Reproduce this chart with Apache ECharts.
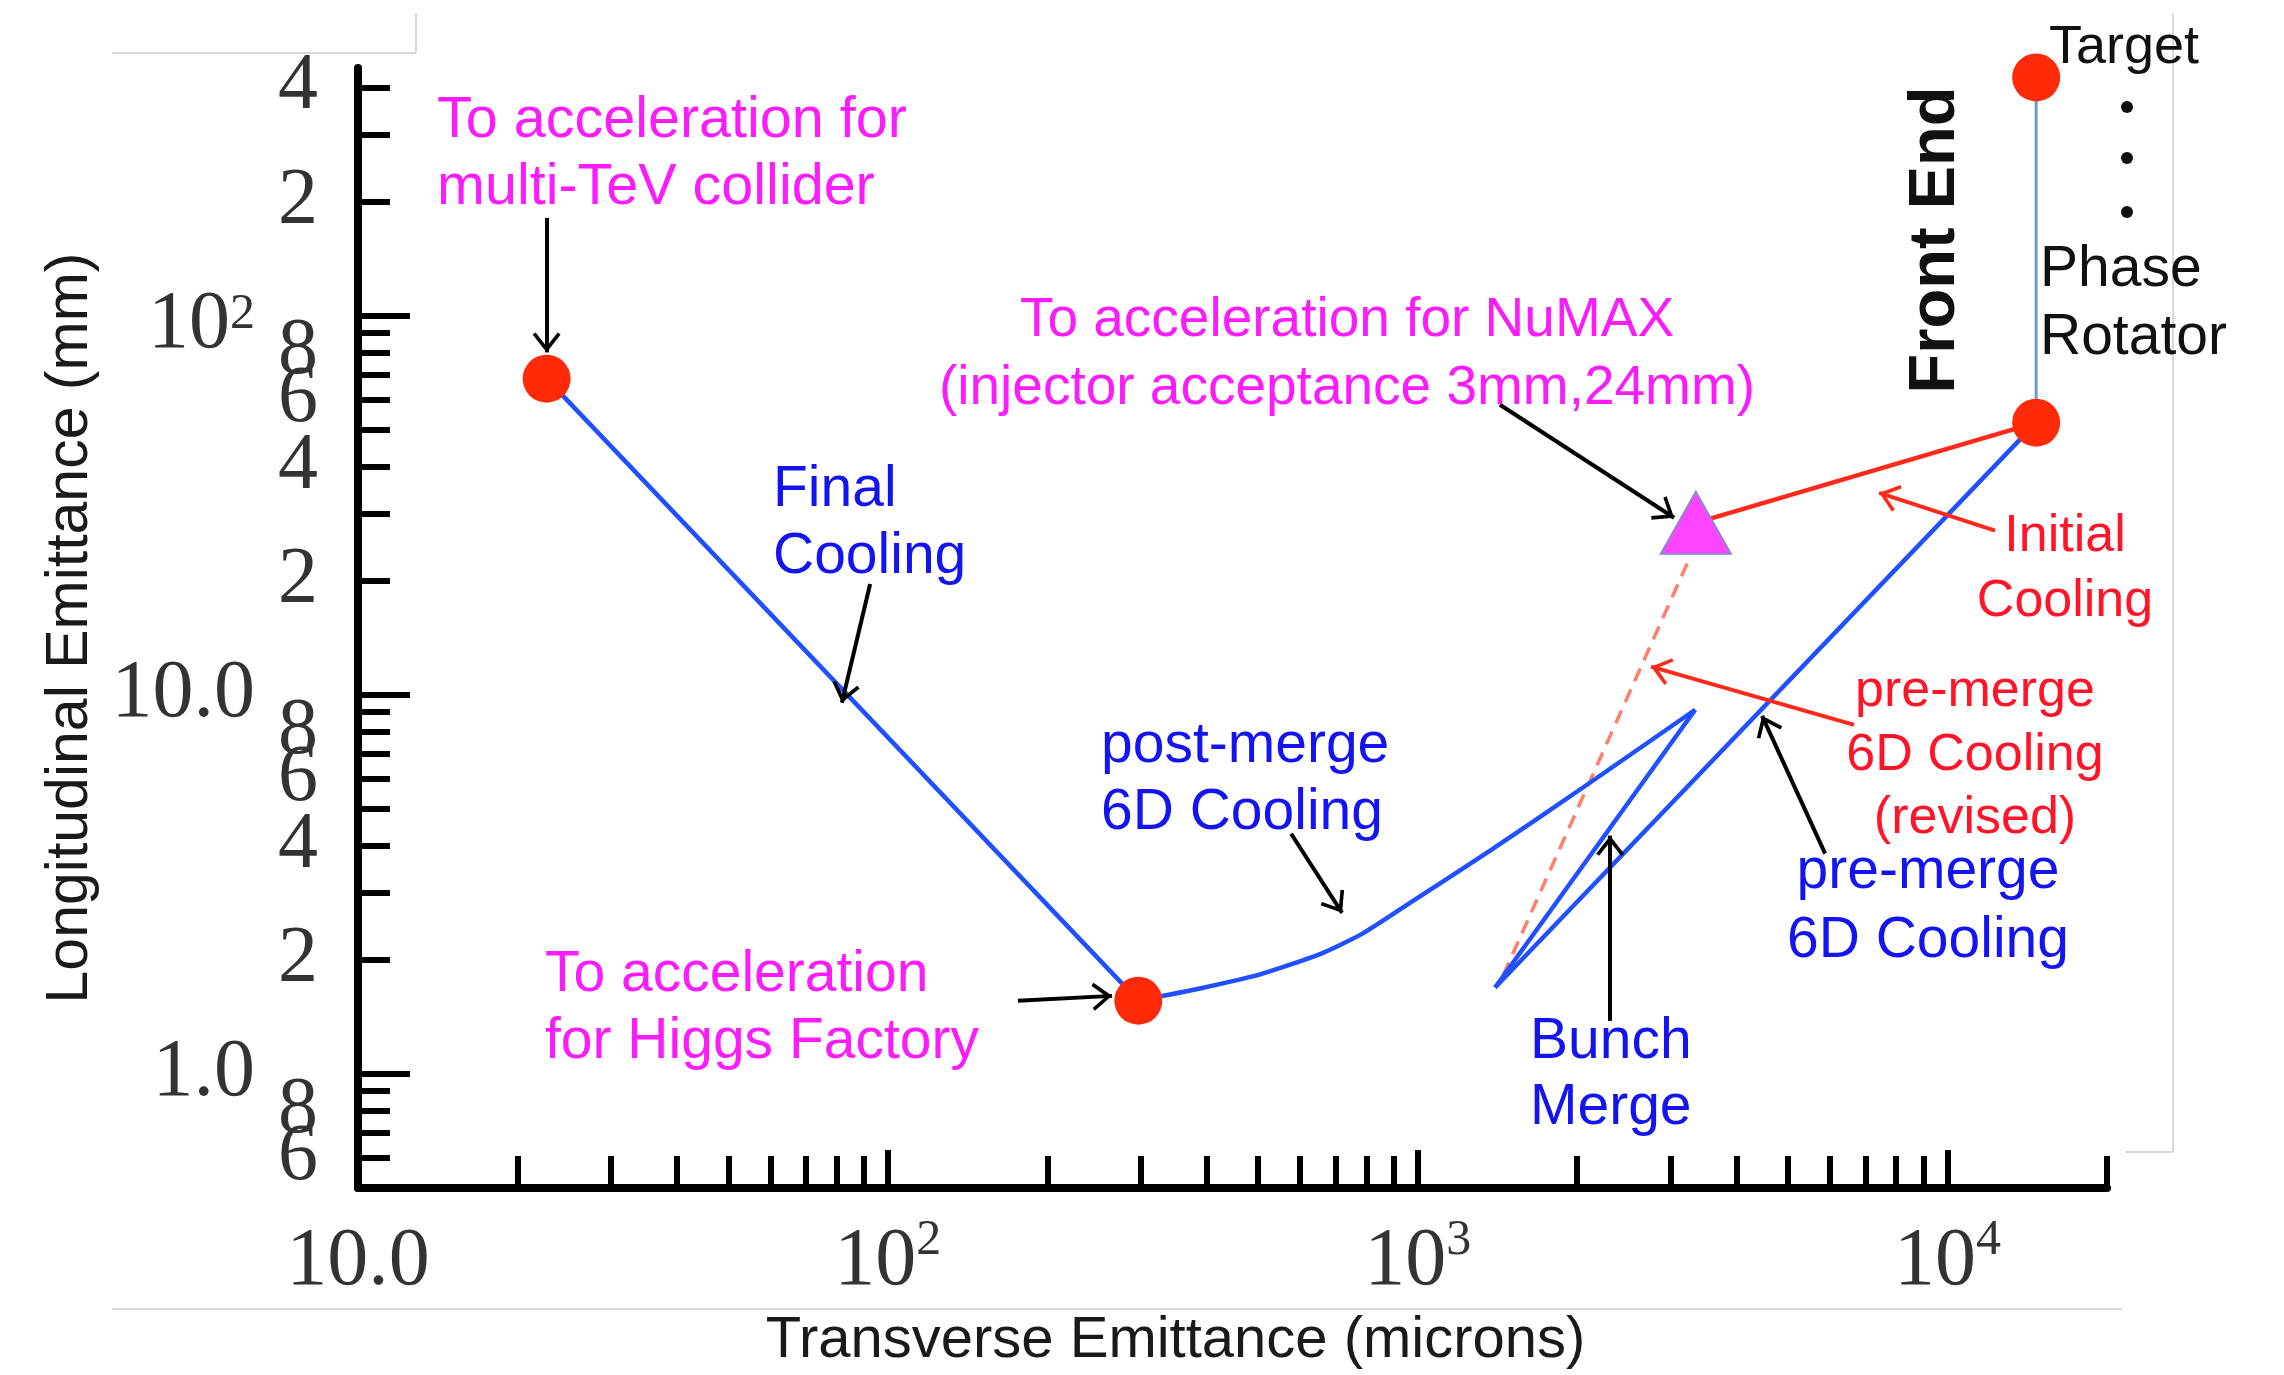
<!DOCTYPE html>
<html><head><meta charset="utf-8">
<script src="https://cdn.jsdelivr.net/npm/echarts@6/dist/echarts.min.js"></script>
<style>html,body{margin:0;padding:0;background:#fff}#c{width:2284px;height:1375px}</style>
</head><body><div id="c"></div>
<script>
// ---------------- data ----------------
const xMajorTicks = [10, 100, 1000, 10000];
const xMinorTicks = [20,30,40,50,60,70,80,90,200,300,400,500,600,700,800,900,2000,3000,4000,5000,6000,7000,8000,9000,20000];
const yMajorTicks = [1, 10, 100];
const yMinorTicks = [0.6,0.7,0.8,0.9,2,3,4,5,6,7,8,9,20,30,40,50,60,70,80,90,200,300,400];
const yMinorLabels = [0.6,2,4,6,8,20,40,60,80,200,400];
const yMinorLabelsExtra = [0.8];

const finalCooling    = [[22.7,68.2],[297,1.56]];
const postMerge       = [[297,1.56],[388,1.68],[504,1.83],[654,2.07],[785,2.34],[980,2.86],[1370,3.88],[2061,5.72],[3340,9.13]];
const bunchMerge      = [[3340,9.13],[1400,1.69]];
const preMerge        = [[1400,1.69],[14700,52.2]];
const frontEnd        = [[14700,425],[14700,52.2]];
const initialCooling  = [[14700,52.2],[3350,28.4]];
const preMergeRevised = [[1450,1.82],[3250,22.7]];
const stagePoints     = [[22.7,68.2],[297,1.56],[14700,425],[14700,52.2]];
const numaxPoint      = [[3350,28.4]];

// annotation arrows [from, to] in data coordinates
const blackArrows = [
  [[22.7,181],[22.7,80]],
  [[92.6,19.6],[81.9,9.53]],
  [[577,4.30],[720,2.66]],
  [[176,1.558],[265,1.606]],
  [[1430,58.2],[3048,29.3]],
  [[5875,3.81],[4467,8.80]],
  [[2308,1.38],[2308,4.25]]
];
const redArrows = [
  [[12295,27.1],[7430,34.1]],
  [[6663,8.33],[2757,11.86]]
];

// ---------------- styles ----------------
const BLUE_LINE = '#2050ff';
const RED_LINE = '#ff2a1a';
const MAG = '#fa1cfa', BLUE_T = '#1414f0', RED_T = '#ff1428', BLK = '#111111';
const SERIF = 'Liberation Serif';
const SANS = 'Liberation Sans';
const chevron = 'path://M14,-20 L14,-20 M-6,0 L-6,0 M34,0 L34,0 M14,0 L28,18 L25,20 L14,6 L3,20 L0,18 Z';

const rich = {
  a: {fontSize: 82, fontFamily: SERIF, color: '#333', lineHeight: 92},
  s: {fontSize: 50, fontFamily: SERIF, color: '#333', lineHeight: 50, verticalAlign: 'top'},
  c: {fontSize: 82, fontFamily: SERIF, color: '#333', lineHeight: 92, padding: [20, 0, 0, 0]},
  t: {fontSize: 50, fontFamily: SERIF, color: '#333', lineHeight: 50, verticalAlign: 'top', padding: [20, 0, 0, 0]}
};
function powLabel(v) {
  if (Math.abs(v - 10) < 1e-6) return '{a|10.0}';
  if (Math.abs(v - 1) < 1e-6) return '{a|1.0}';
  return '{a|10}{s|' + Math.round(Math.log10(v)) + '}';
}
function powLabelY(v) {
  if (Math.abs(v - 10) < 1e-6) return '{a|10.0}';
  if (Math.abs(v - 1) < 1e-6) return '{a|1.0}';
  return '{c|10}{t|' + Math.round(Math.log10(v)) + '}';
}
function mantissa(v) {
  const e = Math.floor(Math.log10(v) + 1e-9);
  return String(Math.round(v / Math.pow(10, e)));
}

function lineSeries(data, color, width, extra) {
  return Object.assign({
    type: 'line', data: data, symbol: 'none', showSymbol: false, silent: true,
    lineStyle: {color: color, width: width}, z: 3, xAxisIndex: 0, yAxisIndex: 0
  }, extra || {});
}
function arrowMark(list, color) {
  return {
    silent: true, animation: false,
    symbol: ['none', chevron], symbolSize: 40,
    lineStyle: {color: color, width: 4, type: 'solid'},
    label: {show: false},
    emphasis: {disabled: true},
    data: list.map(a => [{coord: a[0]}, {coord: a[1]}])
  };
}

function T(text, x, y, color, size, align, weight, rot) {
  return {
    type: 'text', x: x, y: y, rotation: rot || 0, z: 20, silent: true,
    style: {text: text, fill: color, fontSize: size, fontFamily: SANS,
            fontWeight: weight || 'normal', align: align || 'left', verticalAlign: 'middle'}
  };
}
function L(x1, y1, x2, y2) {
  return {type: 'line', z: 1, silent: true, shape: {x1, y1, x2, y2}, style: {stroke: '#d9d9d9', lineWidth: 2}};
}
function D(cx, cy) {
  return {type: 'circle', z: 20, silent: true, shape: {cx, cy, r: 6}, style: {fill: BLK}};
}

const graphics = [
  L(112,53,416,53), L(416,13,416,53), L(112,1309,2122,1309), L(2173,13,2173,1152), L(2125,1152,2173,1152),
  T('To acceleration for', 437, 121, MAG, 57.5), T('multi-TeV collider', 437, 188, MAG, 57.5),
  T('Final', 773, 490, BLUE_T, 57), T('Cooling', 773, 557, BLUE_T, 57),
  T('post-merge', 1101, 746, BLUE_T, 57), T('6D Cooling', 1101, 813, BLUE_T, 57),
  T('To acceleration', 545, 975, MAG, 57), T('for Higgs Factory', 545, 1042, MAG, 57),
  T('To acceleration for NuMAX', 1347, 321, MAG, 55, 'center'),
  T('(injector acceptance 3mm,24mm)', 1347, 389, MAG, 55, 'center'),
  T('Front End', 1936, 240, BLK, 65, 'center', 'bold', Math.PI / 2),
  T('Target', 2049, 48, BLK, 54),
  D(2127,107), D(2127,158), D(2127,212),
  T('Phase', 2040, 270, BLK, 57), T('Rotator', 2040, 338, BLK, 57),
  T('Initial', 2065, 537, RED_T, 52, 'center'), T('Cooling', 2065, 602, RED_T, 52, 'center'),
  T('pre-merge', 1975, 692, RED_T, 52, 'center'), T('6D Cooling', 1975, 756, RED_T, 52, 'center'),
  T('(revised)', 1975, 819, RED_T, 52, 'center'),
  T('pre-merge', 1928, 872, BLUE_T, 57, 'center'), T('6D Cooling', 1928, 941, BLUE_T, 57, 'center'),
  T('Bunch', 1530, 1042, BLUE_T, 57), T('Merge', 1530, 1108, BLUE_T, 57)
];

const axisCommon = {type: 'log', logBase: 10, splitLine: {show: false}, minorTick: {show: false}, minorSplitLine: {show: false}};
const minorLabelStyle = {margin: 40, lineHeight: 40, fontSize: 80, fontFamily: SERIF, color: '#333',
                         showMinLabel: true, showMaxLabel: true, hideOverlap: false};

const option = {
  animation: false,
  backgroundColor: '#ffffff',
  grid: {left: 358, right: 177, top: 68, bottom: 187, containLabel: false, outerBoundsMode: 'none'},
  xAxis: [
    Object.assign({}, axisCommon, {
      min: 10, max: 20000, position: 'bottom',
      name: 'Transverse Emittance (microns)', nameLocation: 'middle', nameGap: 124,
      nameTextStyle: {fontSize: 58, fontFamily: SANS, color: '#1a1a1a', padding: [0, 114, 0, 0]},
      axisLine: {show: true, onZero: false, lineStyle: {color: '#000', width: 8}},
      axisTick: {show: true, inside: true, length: 38, lineStyle: {color: '#000', width: 6}, customValues: xMajorTicks},
      axisLabel: {show: true, customValues: xMajorTicks, formatter: powLabel, rich: rich, margin: 28,
                  showMinLabel: true, showMaxLabel: true, hideOverlap: false}
    }),
    Object.assign({}, axisCommon, {
      min: 10, max: 20000, position: 'bottom',
      axisLine: {show: false},
      axisTick: {show: true, inside: true, length: 32, lineStyle: {color: '#000', width: 6}, customValues: xMinorTicks},
      axisLabel: {show: false}
    })
  ],
  yAxis: [
    Object.assign({}, axisCommon, {
      min: 0.5, max: 450, position: 'left',
      name: 'Longitudinal Emittance (mm)', nameLocation: 'middle', nameGap: 252,
      nameTextStyle: {fontSize: 59, fontFamily: SANS, color: '#1a1a1a'},
      axisLine: {show: true, onZero: false, lineStyle: {color: '#000', width: 8}},
      axisTick: {show: true, inside: true, length: 52, lineStyle: {color: '#000', width: 6}, customValues: yMajorTicks},
      axisLabel: {show: true, customValues: yMajorTicks, formatter: powLabelY, rich: rich, margin: 103,
                  showMinLabel: true, showMaxLabel: true, hideOverlap: false}
    }),
    Object.assign({}, axisCommon, {
      min: 0.5, max: 450, position: 'left',
      axisLine: {show: false},
      axisTick: {show: true, inside: true, length: 32, lineStyle: {color: '#000', width: 6}, customValues: yMinorTicks},
      axisLabel: Object.assign({show: true, customValues: yMinorLabels, formatter: mantissa}, minorLabelStyle)
    }),
    Object.assign({}, axisCommon, {
      min: 0.5, max: 450, position: 'left',
      axisLine: {show: false},
      axisTick: {show: false},
      axisLabel: Object.assign({show: true, customValues: yMinorLabelsExtra, formatter: mantissa}, minorLabelStyle)
    })
  ],
  series: [
    lineSeries(preMergeRevised, '#ff7f6e', 3.5, {lineStyle: {color: '#ff7f6e', width: 3.5, type: [14, 9]}, z: 2}),
    lineSeries(finalCooling, BLUE_LINE, 4.5, {markLine: arrowMark(blackArrows, '#000')}),
    lineSeries(postMerge, BLUE_LINE, 4.5, {smooth: 0.2}),
    lineSeries(bunchMerge, BLUE_LINE, 4.5),
    lineSeries(preMerge, BLUE_LINE, 4.5),
    lineSeries(frontEnd, '#6a9bd1', 3),
    lineSeries(initialCooling, RED_LINE, 4.5, {markLine: arrowMark(redArrows, RED_LINE)}),
    {type: 'scatter', data: stagePoints, symbol: 'circle', symbolSize: 48, silent: true, z: 6,
     itemStyle: {color: '#ff2a08', opacity: 1}},
    {type: 'scatter', data: numaxPoint, symbol: 'triangle', symbolSize: [70, 62], silent: true, z: 7,
     itemStyle: {color: '#ff44ff', borderColor: '#8f86c8', borderWidth: 2, opacity: 1}}
  ],
  graphic: graphics
};

const chart = echarts.init(document.getElementById('c'), null, {renderer: 'canvas'});
chart.setOption(option);
</script>
</body></html>
